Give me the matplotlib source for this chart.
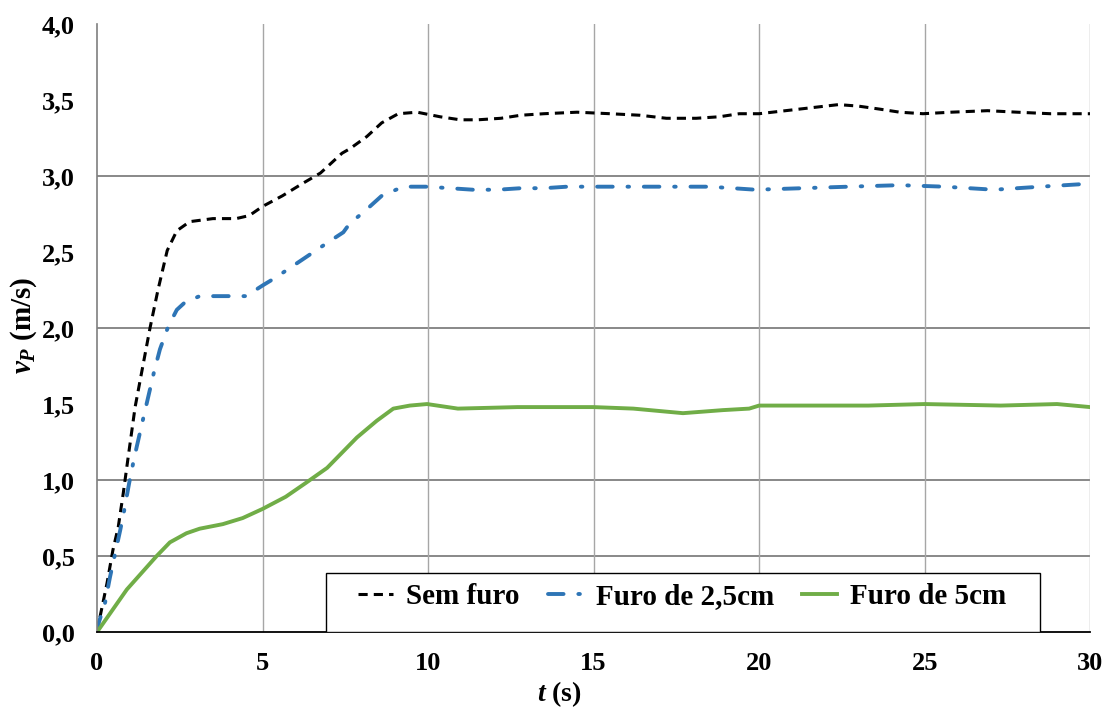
import numpy as np
import matplotlib.pyplot as plt
from matplotlib.patches import Rectangle

plt.rcParams['font.family'] = ['Liberation Serif', 'DejaVu Serif']
plt.rcParams['font.weight'] = 'bold'
plt.rcParams['axes.labelweight'] = 'bold'
plt.rcParams['mathtext.fontset'] = 'custom'
plt.rcParams['mathtext.it'] = 'Liberation Serif:italic:bold'
plt.rcParams['mathtext.rm'] = 'Liberation Serif:bold'

# Sem furo
t_sem = [0, 0.09, 0.3, 0.48, 0.64, 0.79, 0.94, 1.15, 1.6, 1.84, 2.12, 2.41, 2.8, 3.5, 4.2,
         4.6, 5.0, 5.6, 6.2, 6.75, 7.4, 7.64, 8.15, 8.6, 9.1, 9.67, 10.36, 10.97, 11.5,
         12.2, 12.8, 13.5, 14.5, 15.5, 16.4, 17.2, 18.1, 18.8, 19.4, 20.0, 21.2, 22.4,
         23.0, 23.65, 24.25, 24.95, 25.8, 26.9, 27.8, 28.8, 30.0]
v_sem = [0, 0.1, 0.32, 0.54, 0.69, 0.91, 1.15, 1.48, 2.0, 2.25, 2.51, 2.64, 2.70, 2.72, 2.72,
         2.74, 2.80, 2.87, 2.95, 3.02, 3.15, 3.18, 3.26, 3.35, 3.41, 3.42, 3.39, 3.37, 3.37,
         3.38, 3.40, 3.41, 3.42, 3.41, 3.40, 3.38, 3.38, 3.39, 3.41, 3.41, 3.44, 3.47,
         3.46, 3.44, 3.42, 3.41, 3.42, 3.43, 3.42, 3.41, 3.41]

# Furo de 2,5cm
t_25 = [0, 0.05, 0.24, 0.39, 0.53, 0.7, 0.82, 0.97, 1.09, 1.2, 1.4, 1.72, 1.9, 2.15, 2.41,
        2.66, 3.1, 4.5, 5.0, 5.38, 6.2, 6.95, 7.44, 7.64, 8.04, 8.6, 9.25, 9.97, 10.66,
        11.36, 12.1, 12.8, 13.5, 14.2, 15.7, 17.1, 18.5, 19.9, 21.3, 22.7, 24.25, 25.6,
        27.1, 28.5, 30.0]
v_25 = [0, 0.06, 0.19, 0.36, 0.5, 0.67, 0.8, 0.98, 1.11, 1.22, 1.41, 1.71, 1.86, 2.01, 2.12,
        2.17, 2.21, 2.21, 2.28, 2.33, 2.45, 2.56, 2.63, 2.69, 2.76, 2.87, 2.93, 2.93, 2.92,
        2.91, 2.91, 2.92, 2.92, 2.93, 2.93, 2.93, 2.93, 2.91, 2.92, 2.93, 2.94, 2.93,
        2.91, 2.93, 2.95]

# Furo de 5cm
t_5 = [0, 0.9, 1.8, 2.2, 2.7, 3.1, 3.8, 4.4, 5.0, 5.7, 6.3, 6.95, 7.4, 7.85, 8.45, 8.95,
       9.45, 9.97, 10.9, 12.7, 15.0, 16.2, 17.7, 18.9, 19.7, 20.0, 23.3, 25.0, 27.3, 29.0, 30.0]
v_5 = [0, 0.28, 0.5, 0.59, 0.65, 0.68, 0.71, 0.75, 0.81, 0.89, 0.98, 1.08, 1.18, 1.28, 1.39, 1.47,
       1.49, 1.50, 1.47, 1.48, 1.48, 1.47, 1.44, 1.46, 1.47, 1.49, 1.49, 1.50, 1.49, 1.50, 1.48]

xt = [0, 5, 10, 15, 20, 25, 30]
yt = [0, 0.5, 1.0, 1.5, 2.0, 2.5, 3.0, 3.5, 4.0]
hgrid = [0.5, 1.0, 2.0, 3.0]

fig = plt.figure(figsize=(11.09, 7.07), dpi=100)
ax = fig.add_axes([0.0875, 0.106, 0.8955, 0.86])

ax.plot(t_sem, v_sem, color='black', lw=2.2, linestyle=(0, (3, 2)), label='Sem furo')
ax.plot(t_25, v_25, color='#2E75B6', lw=2.8, linestyle=(0, (4.0, 3.8, 0.4, 3.8)),
        dash_capstyle='round', label='Furo de 2,5cm')
ax.plot(t_5, v_5, color='#70AD47', lw=2.8, label='Furo de 5cm')

ax.set_xlim(0, 30)
ax.set_ylim(0, 4.0)
ax.set_xticks(xt)
ax.set_xticklabels([str(v) for v in xt])
ax.set_yticks(yt)
ax.set_yticklabels([f'{v:.1f}'.replace('.', ',') for v in yt])
ax.tick_params(length=0, labelsize=19)
ax.tick_params(axis='x', pad=14)
ax.tick_params(axis='y', pad=16)

for y in hgrid:
    ax.axhline(y, color='#7f7f7f', lw=1.3, zorder=0)
for x in xt[1:]:
    ax.axvline(x, color='#a6a6a6', lw=1.0, zorder=0)

for s in ['top', 'right']:
    ax.spines[s].set_visible(False)
ax.spines['left'].set_color('#7f7f7f')
ax.spines['left'].set_linewidth(1.2)
ax.spines['bottom'].set_color('black')
ax.spines['bottom'].set_linewidth(1.3)

ax.set_xlabel('$t$ (s)', fontsize=20)
ax.xaxis.set_label_coords(0.466, -0.078)
ax.set_ylabel('$v_P$ (m/s)', fontsize=21)
ax.yaxis.set_label_coords(-0.058, 0.505)

# legend box
ax.add_patch(Rectangle((0.2306, 0.0), 0.7185, 0.097, transform=ax.transAxes,
                       facecolor='white', edgecolor='black', lw=1.0, zorder=3))
leg = ax.legend(loc='center left', bbox_to_anchor=(0.263, 0.058), ncol=3, fontsize=21,
                frameon=False, handlelength=1.2, handletextpad=0.45, columnspacing=0.95,
                borderpad=0, borderaxespad=0)
leg.set_zorder(4)

plt.savefig('out.png', dpi=100)
